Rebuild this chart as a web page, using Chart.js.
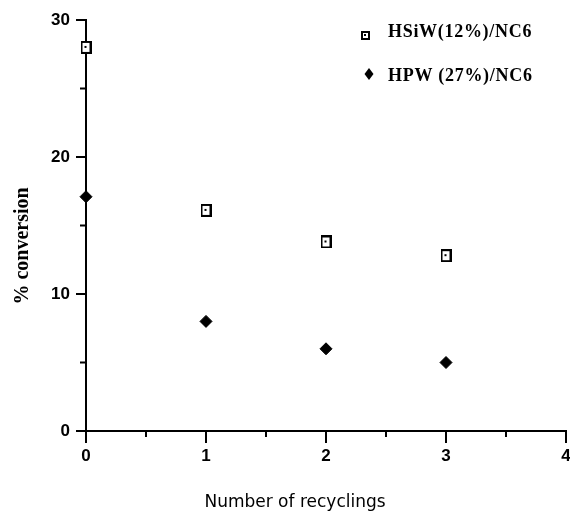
<!DOCTYPE html>
<html>
<head>
<meta charset="utf-8">
<script src="https://cdn.jsdelivr.net/npm/chart.js@4.4.1/dist/chart.umd.min.js"></script>
<style>
html, body { margin: 0; padding: 0; background: #fff; }
#wrap { width: 570px; height: 512px; }
</style>
</head>
<body>
<div id="wrap"><canvas id="chart" width="570" height="512"></canvas></div>
<script>
// ==================== DATA ====================
const recyclings = [0, 1, 2, 3];
const hsiwConversion = [28.0, 16.1, 13.8, 12.8];
const hpwConversion = [17.1, 8.0, 6.0, 5.0];
const seriesNames = ['HSiW(12%)/NC6', 'HPW (27%)/NC6'];
const xTicks = [0, 1, 2, 3, 4];
const xMinor = [0.5, 1.5, 2.5, 3.5];
const yTicks = [0, 10, 20, 30];
const yMinor = [5, 15, 25];
const xTitle = 'Number of recyclings';
const yTitle = '% conversion';

// ==================== MARKERS ====================
function squareMarker(w, h, lw) {
    const c = document.createElement('canvas');
    c.width = w; c.height = h;
    const g = c.getContext('2d');
    g.fillStyle = '#fff';
    g.fillRect(0, 0, w, h);
    g.strokeStyle = '#000';
    g.lineWidth = lw;
    g.strokeRect(lw / 2, lw / 2, w - lw, h - lw);
    g.fillStyle = '#000';
    g.fillRect(Math.floor(w / 2) - 1, Math.floor(h / 2) - 1, 2, 2);
    return c;
}
const squarePoint = squareMarker(11, 13, 2);
const squareLegend = squareMarker(9, 9, 2);

function toPoints(xs, ys) {
    return xs.map((v, i) => ({ x: v, y: ys[i] }));
}

// ==================== DECOR PLUGIN ====================
// minor/major tick marks, axis titles and the inset legend
const decor = {
    id: 'decor',
    afterDraw(chart) {
        const { ctx, scales: { x, y } } = chart;
        const x0 = x.getPixelForValue(0);
        const y0 = y.getPixelForValue(0);
        ctx.save();
        ctx.strokeStyle = '#000';
        ctx.lineWidth = 2;
        ctx.beginPath();
        xTicks.forEach(v => { const p = x.getPixelForValue(v); ctx.moveTo(p, y0); ctx.lineTo(p, y0 + 12); });
        xMinor.forEach(v => { const p = x.getPixelForValue(v); ctx.moveTo(p, y0); ctx.lineTo(p, y0 + 6); });
        yTicks.forEach(v => { const p = y.getPixelForValue(v); ctx.moveTo(x0, p); ctx.lineTo(x0 - 10, p); });
        yMinor.forEach(v => { const p = y.getPixelForValue(v); ctx.moveTo(x0, p); ctx.lineTo(x0 - 6, p); });
        ctx.stroke();

        // axis titles
        ctx.fillStyle = '#000';
        ctx.textAlign = 'center';
        ctx.textBaseline = 'alphabetic';
        ctx.font = '17px "DejaVu Sans", sans-serif';
        ctx.fillText(xTitle, 295, 507);
        ctx.save();
        ctx.translate(28, 246);
        ctx.rotate(-Math.PI / 2);
        ctx.font = 'bold 20px "Liberation Serif", "Times New Roman", serif';
        ctx.fillText(yTitle, 0, 0);
        ctx.restore();

        // legend
        ctx.drawImage(squareLegend, 361, 31);
        ctx.beginPath();
        ctx.moveTo(369, 68); ctx.lineTo(373.5, 74); ctx.lineTo(369, 80); ctx.lineTo(364.5, 74);
        ctx.closePath();
        ctx.fill();
        ctx.textAlign = 'left';
        ctx.font = 'bold 18px "Liberation Serif", "Times New Roman", serif';
        ctx.letterSpacing = '0.7px';
        ctx.fillText(seriesNames[0], 388, 37);
        ctx.fillText(seriesNames[1], 388, 81);
        ctx.restore();
    }
};

// ==================== CHART ====================
const tickFont = { family: '"Liberation Sans", Arial, sans-serif', size: 17, weight: 'bold' };

new Chart(document.getElementById('chart'), {
    type: 'scatter',
    data: {
        datasets: [
            {
                label: seriesNames[0],
                data: toPoints(recyclings, hsiwConversion),
                pointStyle: squarePoint,
                clip: false
            },
            {
                label: seriesNames[1],
                data: toPoints(recyclings, hpwConversion),
                pointStyle: 'rectRot',
                pointRadius: 6,
                backgroundColor: '#000',
                borderColor: '#000',
                borderWidth: 1,
                clip: false
            }
        ]
    },
    options: {
        responsive: false,
        animation: false,
        devicePixelRatio: 1,
        layout: { autoPadding: false, padding: { top: 20, right: 4, left: 0, bottom: 0 } },
        plugins: { legend: { display: false }, tooltip: { enabled: false } },
        scales: {
            x: {
                type: 'linear',
                min: 0, max: 4,
                afterFit: s => { s.height = 81; s.paddingLeft = 0; s.paddingRight = 0; },
                grid: { display: false, drawTicks: false },
                border: { display: true, color: '#000', width: 2 },
                ticks: { stepSize: 1, color: '#000', font: tickFont, padding: 15 }
            },
            y: {
                type: 'linear',
                min: 0, max: 30,
                afterFit: s => { s.width = 86; s.paddingTop = 0; s.paddingBottom = 0; },
                grid: { display: false, drawTicks: false },
                border: { display: true, color: '#000', width: 2 },
                ticks: { stepSize: 10, color: '#000', font: tickFont, padding: 16 }
            }
        }
    },
    plugins: [decor]
});
</script>
</body>
</html>
